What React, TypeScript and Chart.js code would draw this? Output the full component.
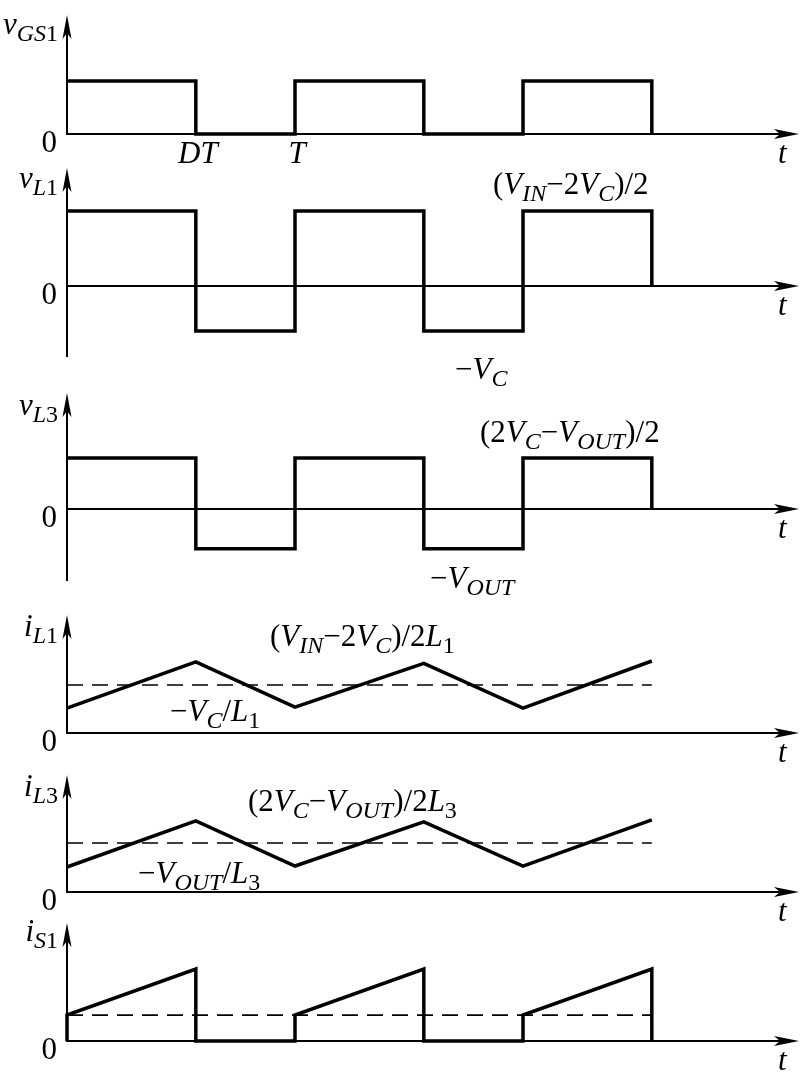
import React, { useEffect, useRef } from "react";
import { Chart, registerables } from "chart.js";

Chart.register(...registerables);

// ---------- data ----------
const D = 0.565; // duty ratio
const switchTimes = [0, D, 1, 1 + D, 2, 2 + D];
const vGS1Levels = [1, 0, 1, 0, 1, 0];
const vL1Levels = [1, -0.6, 1, -0.6, 1, 0];
const vL3Levels = [1, -0.78, 1, -0.78, 1, 0];
const iL1Values = [0.52, 1.48, 0.54, 1.45, 0.52, 1.5];
const iL3Values = [0.51, 1.45, 0.53, 1.43, 0.53, 1.47];
const iS1Times = [0, 0, D, D, 1, 1, 1 + D, 1 + D, 2, 2, 2 + D, 2 + D];
const iS1Values = [0, 0.54, 1.5, 0, 0, 0.54, 1.5, 0, 0, 0.54, 1.5, 0];
const avgSpan = [0, 2 + D];
const iL1Avg = 1;
const iL3Avg = 1;
const iS1Avg = 0.54;
const tickTimes = [D, 1];
const tickLabels = ["DT", "T"];

// ---------- layout ----------
const W = 800;
const H = 1080;
const X0PX = 67;
const PERIOD_PX = 228;
const MAIN = 31;
const SUB = 24;
const FONT = '"Liberation Serif", "Times New Roman", serif';

type Seg = { t: string; i?: boolean; s?: boolean };

const panels = [
  { id: "y1", zeroPx: 134, unitPx: 53, topPx: 15, bottomPx: 134,
    label: [{ t: "v", i: true }, { t: "GS", i: true, s: true }, { t: "1", s: true }], labelY: 34 },
  { id: "y2", zeroPx: 286, unitPx: 75, topPx: 168, bottomPx: 357,
    label: [{ t: "v", i: true }, { t: "L", i: true, s: true }, { t: "1", s: true }], labelY: 188 },
  { id: "y3", zeroPx: 509, unitPx: 51, topPx: 393, bottomPx: 581,
    label: [{ t: "v", i: true }, { t: "L", i: true, s: true }, { t: "3", s: true }], labelY: 415 },
  { id: "y4", zeroPx: 733, unitPx: 48, topPx: 615, bottomPx: 733,
    label: [{ t: "i", i: true }, { t: "L", i: true, s: true }, { t: "1", s: true }], labelY: 636 },
  { id: "y5", zeroPx: 892, unitPx: 49, topPx: 775, bottomPx: 892,
    label: [{ t: "i", i: true }, { t: "L", i: true, s: true }, { t: "3", s: true }], labelY: 796 },
  { id: "y6", zeroPx: 1041, unitPx: 48, topPx: 923, bottomPx: 1041,
    label: [{ t: "i", i: true }, { t: "S", i: true, s: true }, { t: "1", s: true }], labelY: 941 },
];

const notes: { segs: Seg[]; x: number; y: number }[] = [
  { segs: [{ t: "(" }, { t: "V", i: true }, { t: "IN", i: true, s: true }, { t: "−2" }, { t: "V", i: true }, { t: "C", i: true, s: true }, { t: ")/2" }], x: 493, y: 194 },
  { segs: [{ t: "−" }, { t: "V", i: true }, { t: "C", i: true, s: true }], x: 455, y: 379 },
  { segs: [{ t: "(2" }, { t: "V", i: true }, { t: "C", i: true, s: true }, { t: "−" }, { t: "V", i: true }, { t: "OUT", i: true, s: true }, { t: ")/2" }], x: 480, y: 442 },
  { segs: [{ t: "−" }, { t: "V", i: true }, { t: "OUT", i: true, s: true }], x: 430, y: 588 },
  { segs: [{ t: "(" }, { t: "V", i: true }, { t: "IN", i: true, s: true }, { t: "−2" }, { t: "V", i: true }, { t: "C", i: true, s: true }, { t: ")/2" }, { t: "L", i: true }, { t: "1", s: true }], x: 270, y: 646 },
  { segs: [{ t: "−" }, { t: "V", i: true }, { t: "C", i: true, s: true }, { t: "/" }, { t: "L", i: true }, { t: "1", s: true }], x: 170, y: 721 },
  { segs: [{ t: "(2" }, { t: "V", i: true }, { t: "C", i: true, s: true }, { t: "−" }, { t: "V", i: true }, { t: "OUT", i: true, s: true }, { t: ")/2" }, { t: "L", i: true }, { t: "3", s: true }], x: 248, y: 811 },
  { segs: [{ t: "−" }, { t: "V", i: true }, { t: "OUT", i: true, s: true }, { t: "/" }, { t: "L", i: true }, { t: "3", s: true }], x: 138, y: 883 },
];

function segFont(s: Seg) {
  return `${s.i ? "italic " : ""}${s.s ? SUB : MAIN}px ${FONT}`;
}

function drawRich(ctx: CanvasRenderingContext2D, segs: Seg[], x: number, y: number, align: "left" | "right") {
  let total = 0;
  const widths = segs.map((s) => {
    ctx.font = segFont(s);
    const w = ctx.measureText(s.t).width;
    total += w;
    return w;
  });
  let cx = align === "right" ? x - total : x;
  ctx.textAlign = "left";
  ctx.textBaseline = "alphabetic";
  segs.forEach((s, k) => {
    ctx.font = segFont(s);
    ctx.fillText(s.t, cx, y + (s.s ? 7 : 0));
    cx += widths[k];
  });
}

function arrowHead(ctx: CanvasRenderingContext2D, tx: number, ty: number, dir: "up" | "right", len: number, half: number, notch: number) {
  ctx.beginPath();
  if (dir === "right") {
    ctx.moveTo(tx, ty);
    ctx.lineTo(tx - len, ty - half);
    ctx.lineTo(tx - len + notch, ty);
    ctx.lineTo(tx - len, ty + half);
  } else {
    ctx.moveTo(tx, ty);
    ctx.lineTo(tx - half, ty + len);
    ctx.lineTo(tx, ty + len - notch);
    ctx.lineTo(tx + half, ty + len);
  }
  ctx.closePath();
  ctx.fill();
}

const axesPlugin = {
  id: "timingAxes",
  beforeDatasetsDraw(chart: any) {
    const ctx = chart.ctx as CanvasRenderingContext2D;
    const xs = chart.scales.x;
    const x0 = xs.getPixelForValue(0);
    const right = chart.chartArea.right - 1;
    ctx.save();
    ctx.strokeStyle = "#000";
    ctx.fillStyle = "#000";
    ctx.lineWidth = 2;
    panels.forEach((p) => {
      const ys = chart.scales[p.id];
      const y0 = ys.getPixelForValue(0);
      ctx.beginPath();
      ctx.moveTo(x0, p.bottomPx);
      ctx.lineTo(x0, p.topPx + 12);
      ctx.moveTo(x0 - 1, y0);
      ctx.lineTo(right - 12, y0);
      ctx.stroke();
      arrowHead(ctx, x0, p.topPx, "up", 24, 4.5, 6);
      arrowHead(ctx, right, y0, "right", 25, 5, 6);
    });
    ctx.restore();
  },
  afterDatasetsDraw(chart: any) {
    const ctx = chart.ctx as CanvasRenderingContext2D;
    const xs = chart.scales.x;
    const x0 = xs.getPixelForValue(0);
    ctx.save();
    ctx.fillStyle = "#000";
    panels.forEach((p) => {
      const y0 = chart.scales[p.id].getPixelForValue(0);
      drawRich(ctx, p.label, x0 - 9, p.labelY, "right");
      drawRich(ctx, [{ t: "0" }], x0 - 10, y0 + 18, "right");
      drawRich(ctx, [{ t: "t", i: true }], 778, y0 + 29, "left");
    });
    const y1zero = chart.scales.y1.getPixelForValue(0);
    tickTimes.forEach((tt, k) => {
      const px = xs.getPixelForValue(tt);
      ctx.font = `italic ${MAIN}px ${FONT}`;
      const w = ctx.measureText(tickLabels[k]).width;
      drawRich(ctx, [{ t: tickLabels[k], i: true }], px - w / 2 + 2, y1zero + 29, "left");
    });
    notes.forEach((n) => drawRich(ctx, n.segs, n.x, n.y, "left"));
    ctx.restore();
  },
};

function pts(xsArr: number[], ysArr: number[]) {
  return xsArr.map((x, k) => ({ x, y: ysArr[k] }));
}

const solid = { borderColor: "#000", borderWidth: 3.5, pointRadius: 0, fill: false, borderJoinStyle: "miter", borderCapStyle: "butt", tension: 0 };
const dashed = { borderColor: "#000", borderWidth: 1.6, pointRadius: 0, fill: false, borderDash: [16, 9], tension: 0 };

export default function App() {
  const ref = useRef<HTMLCanvasElement | null>(null);
  useEffect(() => {
    document.body.style.margin = "0";
    const canvas = ref.current;
    if (!canvas) return;
    const scales: any = {
      x: { type: "linear", display: false, min: -X0PX / PERIOD_PX, max: (W - X0PX) / PERIOD_PX },
    };
    panels.forEach((p) => {
      const max = p.zeroPx / p.unitPx;
      scales[p.id] = { type: "linear", display: false, min: max - H / p.unitPx, max };
    });
    const chart = new Chart(canvas, {
      type: "line",
      data: {
        datasets: [
          { ...solid, label: "vGS1", yAxisID: "y1", stepped: "before", data: pts(switchTimes, vGS1Levels) },
          { ...solid, label: "vL1", yAxisID: "y2", stepped: "before", data: pts(switchTimes, vL1Levels) },
          { ...solid, label: "vL3", yAxisID: "y3", stepped: "before", data: pts(switchTimes, vL3Levels) },
          { ...solid, label: "iL1", yAxisID: "y4", data: pts(switchTimes, iL1Values) },
          { ...dashed, label: "iL1 avg", yAxisID: "y4", data: pts(avgSpan, [iL1Avg, iL1Avg]) },
          { ...solid, label: "iL3", yAxisID: "y5", data: pts(switchTimes, iL3Values) },
          { ...dashed, label: "iL3 avg", yAxisID: "y5", data: pts(avgSpan, [iL3Avg, iL3Avg]) },
          { ...solid, label: "iS1", yAxisID: "y6", data: pts(iS1Times, iS1Values) },
          { ...dashed, label: "iS1 avg", yAxisID: "y6", data: pts(avgSpan, [iS1Avg, iS1Avg]) },
        ] as any,
      },
      options: {
        responsive: false,
        animation: false,
        layout: { padding: 0 },
        plugins: { legend: { display: false }, tooltip: { enabled: false } },
        scales,
      },
      plugins: [axesPlugin],
    });
    return () => chart.destroy();
  }, []);
  return <canvas ref={ref} width={W} height={H} style={{ display: "block" }} />;
}
